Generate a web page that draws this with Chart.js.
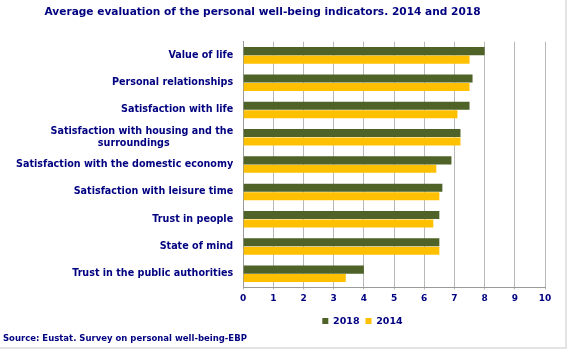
<!DOCTYPE html>
<html>
<head>
<meta charset="utf-8">
<script src="https://cdn.jsdelivr.net/npm/chart.js@4/dist/chart.umd.min.js"></script>
<style>
  body { margin: 0; background: #fff; }
  #marco { width: 565px; height: 347px; border-right: 2px solid #e4e4e4; border-bottom: 2px solid #e4e4e4; }
</style>
</head>
<body>
<div id="marco"><canvas id="barChartBienestar" width="565" height="347"></canvas></div>
<script>
// Categorias (de arriba a abajo)
var categorias = [
  "Value of life",
  "Personal relationships",
  "Satisfaction with life",
  ["Satisfaction with housing and the", "surroundings"],
  "Satisfaction with the domestic economy",
  "Satisfaction with leisure time",
  "Trust in people",
  "State of mind",
  "Trust in the public authorities"
];

// Valores medios
var valores2018 = [8.0, 7.6, 7.5, 7.2, 6.9, 6.6, 6.5, 6.5, 4.0];
var valores2014 = [7.5, 7.5, 7.1, 7.2, 6.4, 6.5, 6.3, 6.5, 3.4];

var ticksX = [0, 1, 2, 3, 4, 5, 6, 7, 8, 9, 10];

var azul = "#000080";
var fuente = "'DejaVu Sans', Verdana, sans-serif";
var textoFuente = "Source: Eustat. Survey on personal well-being-EBP";

// Mover leyenda, titulo y fuente horizontalmente
var moverCajas = {
  id: "moverCajas",
  afterLayout: function (chart) {
    var l = chart.legend;
    l.left += 87; l.right += 87;
    l.top += 2; l.bottom += 2;
    var t = chart.titleBlock;
    t.left -= 13; t.right -= 13;
    chart.boxes.forEach(function (b) {
      if (b.options && b.options.text === textoFuente) {
        b.left -= 3; b.right -= 3;
      }
    });
  }
};

function GraficoBienestar() {
  var ctx = document.getElementById("barChartBienestar").getContext("2d");

  // la segunda linea va centrada bajo la primera
  var etiquetas = categorias.map(function (c) {
    if (Array.isArray(c)) {
      return [c[0], c[1] + "\u00a0".repeat(19)];
    }
    return c;
  });

  var config = {
    type: "bar",
    data: {
      labels: etiquetas,
      datasets: [
        {
          label: "2018",
          data: valores2018,
          backgroundColor: "#4F6228",
          barPercentage: 0.95,
          categoryPercentage: 0.62
        },
        {
          label: "2014",
          data: valores2014,
          backgroundColor: "#FFC000",
          barPercentage: 0.95,
          categoryPercentage: 0.62
        }
      ]
    },
    options: {
      indexAxis: "y",
      responsive: false,
      animation: false,
      layout: { padding: { left: 6, right: 20, top: 4, bottom: 1 } },
      scales: {
        x: {
          min: 0,
          max: 10,
          afterBuildTicks: function (axis) {
            axis.ticks = ticksX.map(function (v) { return { value: v }; });
          },
          grid: { color: "#b8b8b8", lineWidth: 1, tickLength: 2, drawTicks: true },
          border: { color: "#9a9a9a" },
          ticks: {
            color: azul,
            font: { family: fuente, size: 9, weight: "bold" },
            padding: 4
          }
        },
        y: {
          grid: { drawOnChartArea: false, drawTicks: false },
          border: { color: "#9a9a9a" },
          ticks: {
            color: azul,
            font: { family: fuente, size: 9.6, weight: "bold" },
            padding: 10,
            autoSkip: false
          }
        }
      },
      plugins: {
        title: {
          display: true,
          text: "Average evaluation of the personal well-being indicators. 2014 and 2018",
          color: azul,
          font: { family: fuente, size: 10.6, weight: "bold" },
          padding: { top: 2, bottom: 23 }
        },
        subtitle: {
          display: true,
          position: "bottom",
          align: "start",
          text: textoFuente,
          color: azul,
          font: { family: fuente, size: 8.5, weight: "bold" },
          padding: { top: 0, bottom: 2 }
        },
        legend: {
          position: "bottom",
          labels: {
            color: azul,
            font: { family: fuente, size: 9.5, weight: "bold" },
            boxWidth: 6,
            boxHeight: 6,
            padding: 6
          }
        },
        tooltip: { enabled: true }
      }
    },
    plugins: [moverCajas]
  };

  var grafico = new Chart(ctx, config);
}

GraficoBienestar();
</script>
</body>
</html>
